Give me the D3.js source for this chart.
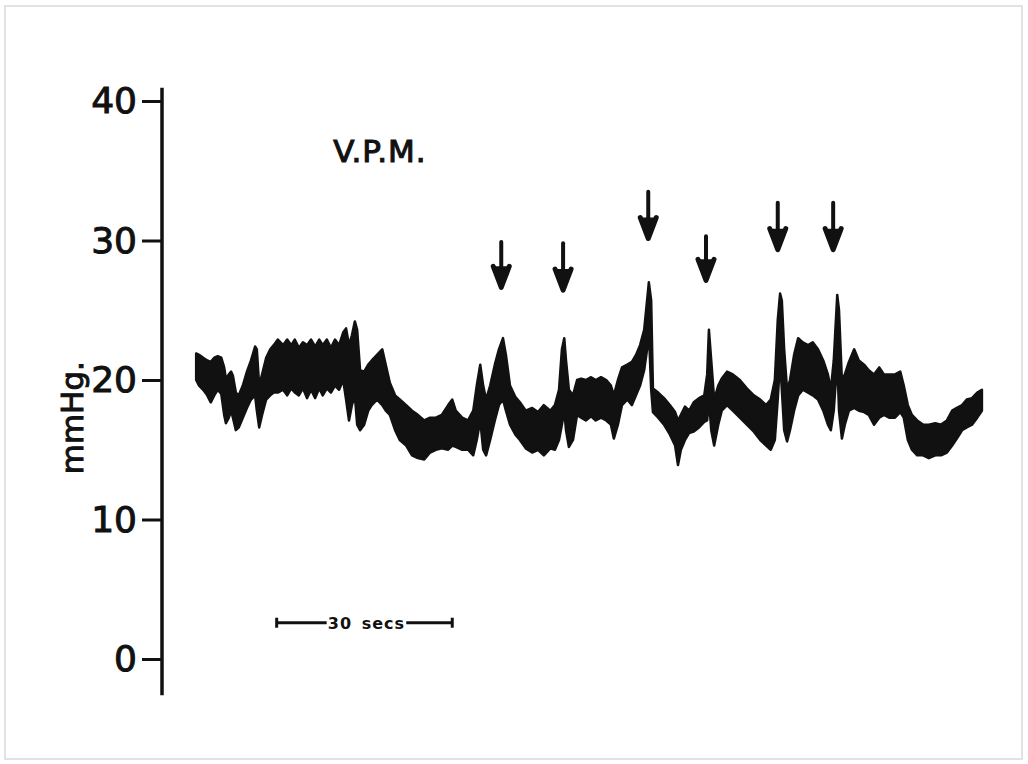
<!DOCTYPE html>
<html>
<head>
<meta charset="utf-8">
<script src="https://cdn.jsdelivr.net/npm/d3@7"></script>
<style>
  body { margin: 0; background: #fff; }
  svg { display: block; }
  .tick text { font-family: "DejaVu Sans", "Liberation Sans", sans-serif; }
</style>
</head>
<body>
<div id="chart"></div>
<script>
// recording time (seconds), upper and lower edge of the pressure trace (mmHg)
var time = [0.2,0.7,1.4,2.1,2.7,3.3,3.9,4.5,5.0,5.3,5.8,6.2,6.5,7.0,7.5,8.2,8.9,9.6,10.3,10.6,11.0,11.5,12.2,12.9,13.5,14.2,15.1,15.8,16.5,17.1,17.8,18.5,19.2,19.9,20.6,21.3,21.9,22.6,23.3,24.0,24.7,25.4,25.9,26.4,26.9,27.4,27.8,28.3,29.0,29.7,30.3,31.2,32.1,32.7,33.4,34.3,35.1,36.2,37.2,38.2,39.3,40.3,41.3,42.3,43.4,44.1,44.7,45.8,46.8,47.7,48.3,48.9,49.4,49.9,50.6,51.4,52.1,52.8,53.3,54.0,54.9,55.7,56.7,57.8,58.8,59.8,60.9,61.7,62.4,62.9,63.3,63.6,64.1,64.8,65.5,66.2,67.0,67.9,68.7,69.6,70.5,71.3,71.8,72.5,73.2,74.1,74.9,75.6,76.3,77.0,77.5,77.8,78.2,78.5,79.4,80.4,81.4,82.3,82.8,83.3,84.0,84.7,85.5,86.4,87.3,87.8,88.1,88.5,89.0,89.7,90.3,91.2,92.2,93.4,94.6,95.8,96.9,97.9,98.7,99.4,99.9,100.3,100.6,101.0,101.5,102.0,102.7,103.4,104.2,105.1,105.9,106.8,107.7,108.5,109.0,109.5,110.1,110.4,110.9,111.4,112.1,113.0,113.8,114.7,115.5,116.4,117.3,118.1,119.0,120.0,120.9,121.5,122.2,122.9,123.8,124.8,125.8,126.9,127.9,128.9,129.8,130.6,131.5,132.3,133.2,134.1,134.9];

var upper = [21.9,21.8,21.6,21.4,21.3,21.6,21.7,21.6,20.9,20.1,20.4,20.6,20.3,19.1,18.9,19.6,20.6,21.4,22.4,22.2,19.6,20.4,21.6,22.2,22.5,22.9,22.5,22.9,22.5,22.9,22.3,22.7,22.5,22.9,22.4,22.9,22.5,22.9,22.3,22.9,22.5,23.4,23.7,22.5,23.2,24.2,23.6,20.7,20.6,21.1,21.4,21.8,22.2,21.1,19.8,18.9,18.6,18.2,17.8,17.5,17.1,17.3,17.3,17.5,18.2,18.6,17.8,17.3,17.1,17.8,19.6,21.1,19.6,18.6,19.6,21.1,22.2,23.0,21.8,19.6,18.8,18.4,17.8,18.0,17.7,18.2,17.8,18.2,19.3,22.2,23.0,21.4,19.3,18.9,20.0,20.1,20.0,20.2,20.0,20.2,20.0,19.6,18.9,20.0,20.9,21.1,21.3,21.8,22.5,23.6,25.7,27.0,25.7,19.4,19.1,18.7,18.2,17.7,17.1,17.5,18.1,17.8,18.4,18.7,18.9,20.4,23.6,21.4,18.6,19.6,20.1,20.6,20.4,20.0,19.4,18.9,18.6,18.2,18.6,20.0,24.3,26.2,25.7,22.2,19.3,20.0,21.8,23.0,22.7,22.5,22.7,22.2,21.4,20.4,19.3,21.4,26.1,25.0,20.0,20.4,21.3,22.2,21.4,21.1,20.7,20.4,20.9,20.4,20.4,20.4,20.6,19.6,18.2,17.5,17.1,16.8,16.8,16.9,16.8,17.1,17.8,18.0,18.2,18.6,18.7,19.1,19.3];

var lower = [20.0,19.6,19.3,18.9,18.4,18.9,19.3,19.0,17.5,16.9,17.3,17.8,17.3,16.4,16.6,17.3,18.0,18.6,18.9,17.8,16.6,17.5,18.6,18.9,19.1,19.1,19.3,18.9,19.4,19.1,18.9,19.4,18.7,19.3,18.7,19.4,18.9,19.4,19.1,19.6,19.3,20.0,18.6,17.1,18.2,18.9,16.8,16.4,16.8,17.8,18.2,18.6,18.2,17.8,17.5,16.4,15.7,15.3,14.6,14.4,14.3,14.8,15.0,15.1,15.0,15.3,15.2,15.0,15.0,14.6,15.7,17.1,15.0,14.6,15.7,17.1,18.2,18.6,17.8,16.8,16.1,15.7,15.1,14.8,15.0,14.6,15.1,15.0,15.7,16.8,17.8,16.4,15.2,15.7,17.5,17.3,17.1,17.4,17.1,17.3,17.1,16.8,15.8,16.8,18.2,18.6,18.2,18.9,19.6,20.7,22.2,23.6,19.3,17.7,17.3,16.8,16.1,15.3,13.9,15.0,15.7,16.2,16.3,16.6,17.0,17.1,18.6,16.4,15.3,16.8,17.8,18.2,17.8,17.3,16.8,16.3,15.7,15.3,15.0,15.7,18.6,21.4,19.3,16.4,15.6,16.4,17.8,18.9,19.3,19.1,18.9,18.6,17.8,16.8,16.4,17.8,21.4,17.8,15.8,16.8,17.8,18.0,17.8,17.7,17.5,16.8,17.3,17.5,17.3,17.3,17.7,17.3,15.7,15.0,14.6,14.6,14.4,14.6,14.6,14.8,15.3,15.8,16.4,16.6,16.8,17.3,17.8];

// arrows marking stimuli: time, top and tip (mmHg)
var arrowTime = [52.5, 63.1, 77.7, 87.6, 99.9, 109.4];
var arrowTop = [29.9, 29.8, 33.5, 30.3, 32.7, 32.7];
var arrowTip = [26.5, 26.3, 30.0, 27.0, 29.2, 29.2];

var yTicks = [0, 10, 20, 30, 40];

var W = 1028, H = 764;
var font = "DejaVu Sans, Liberation Sans, sans-serif";
var svg = d3.select("#chart").append("svg")
  .attr("width", W)
  .attr("height", H);

// faint frame of the scanned page
svg.append("rect")
  .attr("x", 5).attr("y", 6)
  .attr("width", 1017).attr("height", 753)
  .attr("fill", "#fff")
  .attr("stroke", "#e2e2e2")
  .attr("stroke-width", 2);

var x = d3.scaleLinear().domain([0, 140]).range([195, 195 + 140 * 175 / 30]);
var y = d3.scaleLinear().domain([0, 40]).range([659, 101]);

// y axis
var yAxis = svg.append("g")
  .attr("transform", "translate(162,0)")
  .call(d3.axisLeft(y).tickValues(yTicks).tickSize(20).tickPadding(5));
yAxis.select(".domain").remove();
yAxis.selectAll(".tick line").attr("stroke", "#111").attr("stroke-width", 3);
yAxis.selectAll(".tick text")
  .attr("fill", "#111")
  .attr("stroke", "#111")
  .attr("stroke-width", 1)
  .style("font-size", "36px");

svg.append("line")
  .attr("x1", 162).attr("x2", 162)
  .attr("y1", y(-2.6)).attr("y2", y(40.95))
  .attr("stroke", "#111")
  .attr("stroke-width", 3.5);

svg.append("text")
  .attr("transform", "translate(83," + y(17.3) + ") rotate(-90)")
  .attr("text-anchor", "middle")
  .style("font-family", font)
  .style("font-size", "31px")
  .attr("fill", "#111")
  .attr("stroke", "#111")
  .attr("stroke-width", 1)
  .text("mmHg.");

svg.append("text")
  .attr("x", x(23.7))
  .attr("y", y(35.6))
  .style("font-family", font)
  .style("font-size", "31px")
  .style("letter-spacing", "1px")
  .attr("fill", "#111")
  .attr("stroke", "#111")
  .attr("stroke-width", 1.1)
  .text("V.P.M.");

// pressure trace drawn as a band between its upper and lower edge
var trace = time.map(function (t, i) { return { t: t, hi: upper[i], lo: lower[i] }; });

var area = d3.area()
  .x(function (d) { return x(d.t); })
  .y0(function (d) { return y(d.lo); })
  .y1(function (d) { return y(d.hi); });

svg.append("path")
  .datum(trace)
  .attr("d", area)
  .attr("fill", "#111")
  .attr("stroke", "#111")
  .attr("stroke-width", 2.5)
  .attr("stroke-linejoin", "round");

// arrows
var arrows = svg.selectAll(".arrow")
  .data(arrowTime.map(function (t, i) { return { t: t, top: arrowTop[i], tip: arrowTip[i] }; }))
  .enter().append("g")
  .attr("class", "arrow");

arrows.append("line")
  .attr("x1", function (d) { return x(d.t); })
  .attr("x2", function (d) { return x(d.t); })
  .attr("y1", function (d) { return y(d.top); })
  .attr("y2", function (d) { return y(d.tip) - 4; })
  .attr("stroke", "#111")
  .attr("stroke-width", 4)
  .attr("stroke-linecap", "round");

arrows.append("path")
  .attr("d", function (d) {
    var cx = x(d.t), ty = y(d.tip) - 2;
    return "M" + (cx - 8) + "," + (ty - 21) + "L" + cx + "," + ty + "L" + (cx + 8) + "," + (ty - 21);
  })
  .attr("fill", "#111")
  .attr("stroke", "#111")
  .attr("stroke-width", 5)
  .attr("stroke-linejoin", "round")
  .attr("stroke-linecap", "round");

// 30 second scale bar
var barY = y(2.6);
var bar = svg.append("g");
bar.append("line")
  .attr("x1", x(14.0)).attr("x2", x(14.0) + 50)
  .attr("y1", barY).attr("y2", barY)
  .attr("stroke", "#111").attr("stroke-width", 3);
bar.append("line")
  .attr("x1", x(44.1) - 46).attr("x2", x(44.1))
  .attr("y1", barY).attr("y2", barY)
  .attr("stroke", "#111").attr("stroke-width", 3);
[14.0, 44.1].forEach(function (t) {
  bar.append("line")
    .attr("x1", x(t)).attr("x2", x(t))
    .attr("y1", barY - 5).attr("y2", barY + 5)
    .attr("stroke", "#111").attr("stroke-width", 3);
});
bar.append("text")
  .attr("x", (x(14.0) + x(44.1)) / 2 + 2)
  .attr("y", barY + 6)
  .attr("text-anchor", "middle")
  .style("font-family", font)
  .style("font-size", "16px")
  .style("font-weight", "bold")
  .style("letter-spacing", "1px")
  .style("word-spacing", "3px")
  .attr("fill", "#111")
  .text("30 secs");
</script>
</body>
</html>
